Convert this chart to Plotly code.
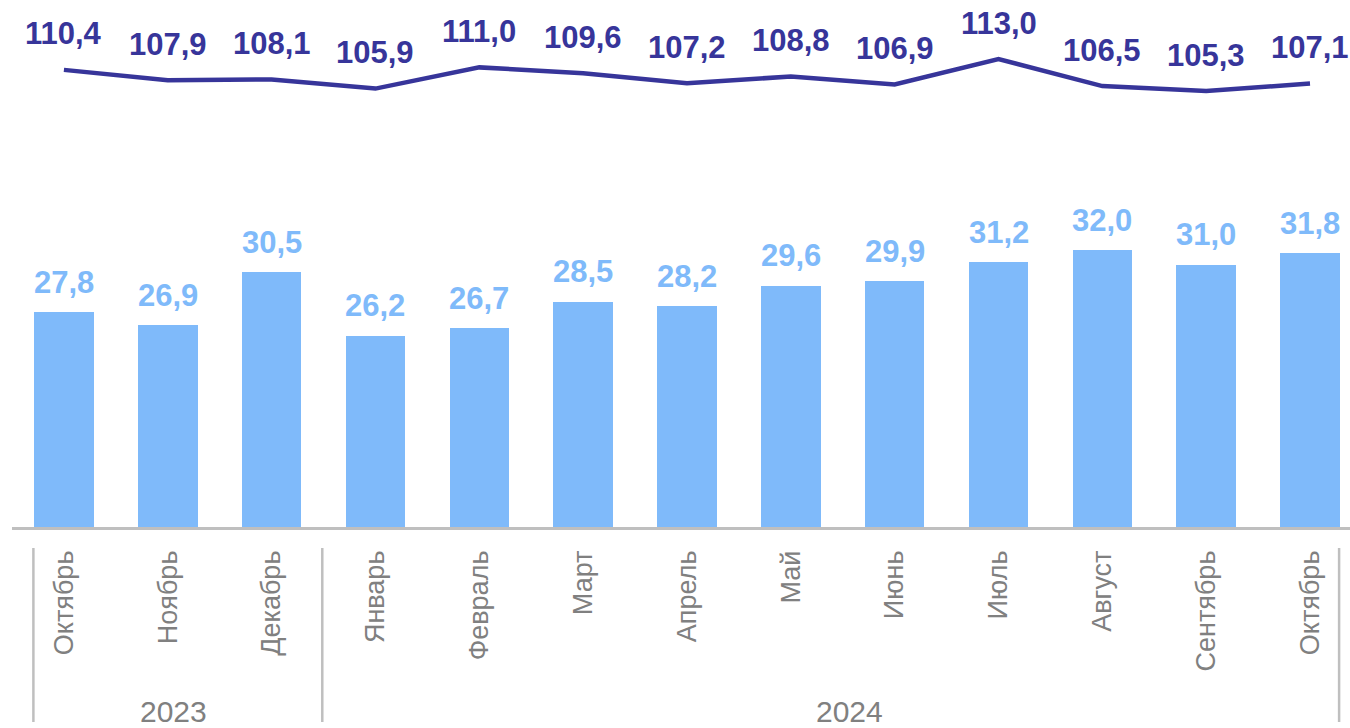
import plotly.graph_objects as go

months = ["Октябрь", "Ноябрь", "Декабрь", "Январь", "Февраль", "Март", "Апрель",
          "Май", "Июнь", "Июль", "Август", "Сентябрь", "Октябрь"]
years = ["2023", "2024"]
bar_values = [27.8, 26.9, 30.5, 26.2, 26.7, 28.5, 28.2, 29.6, 29.9, 31.2, 32.0, 31.0, 31.8]
line_values = [110.4, 107.9, 108.1, 105.9, 111.0, 109.6, 107.2, 108.8, 106.9, 113.0, 106.5, 105.3, 107.1]

BAR_COLOR = "#7FBAFA"
LINE_COLOR = "#37359A"
GRAY_TEXT = "#808080"
GRAY_LINE = "#BFBFBF"
FONT = "Liberation Sans, Arial, sans-serif"

def fmt(v):
    return f"{v:.1f}".replace(".", ",")

x = list(range(len(months)))

fig = go.Figure()
fig.add_trace(go.Bar(x=x, y=bar_values, marker_color=BAR_COLOR, width=0.573,
                     marker_line_width=0, yaxis="y", showlegend=False, hoverinfo="skip"))
fig.add_trace(go.Scatter(x=x, y=line_values, mode="lines",
                         line=dict(color=LINE_COLOR, width=4.5), yaxis="y2",
                         showlegend=False, hoverinfo="skip"))

annotations = []
for i, v in enumerate(bar_values):
    annotations.append(dict(x=i, y=v, xref="x", yref="y", text=f"<b>{fmt(v)}</b>",
                            showarrow=False, yanchor="middle", yshift=30,
                            font=dict(family=FONT, size=31, color=BAR_COLOR)))
for i, v in enumerate(line_values):
    annotations.append(dict(x=i, y=v, xref="x", yref="y2", text=f"<b>{fmt(v)}</b>",
                            showarrow=False, yanchor="middle", yshift=36,
                            font=dict(family=FONT, size=31, color=LINE_COLOR)))
# year group labels
year_pos = [1.06, 7.565]
for yr, xp in zip(years, year_pos):
    annotations.append(dict(x=xp, y=-0.351, xref="x", yref="paper", text=yr,
                            showarrow=False, yanchor="middle",
                            font=dict(family=FONT, size=30, color=GRAY_TEXT)))

shapes = []
for xs in [-0.294, 2.488, 12.28]:
    shapes.append(dict(type="line", xref="x", yref="paper", x0=xs, x1=xs,
                       y0=-0.0398, y1=-0.370, line=dict(color=GRAY_LINE, width=2.5)))

fig.update_layout(
    width=1350, height=728,
    margin=dict(l=11.5, r=0, t=0, b=201),
    paper_bgcolor="white", plot_bgcolor="white",
    bargap=0,
    hovermode=False,
    xaxis=dict(range=[-0.5, 12.385], tickmode="array", tickvals=x, ticktext=months,
               tickangle=-90, tickfont=dict(family=FONT, size=27, color=GRAY_TEXT),
               showline=True, linecolor=GRAY_LINE, linewidth=2.5, ticks="",
               showgrid=False, zeroline=False, automargin=False, ticklabelstandoff=10),
    yaxis=dict(range=[13.2, 49.0], visible=False, showgrid=False, zeroline=False),
    yaxis2=dict(range=[0.5, 127.2], overlaying="y", side="right", visible=False,
                showgrid=False, zeroline=False),
    annotations=annotations,
    shapes=shapes,
)

fig.write_html("out.html", config={"displayModeBar": False},
               post_script="document.body.style.margin='0';document.body.style.overflow='hidden';")
